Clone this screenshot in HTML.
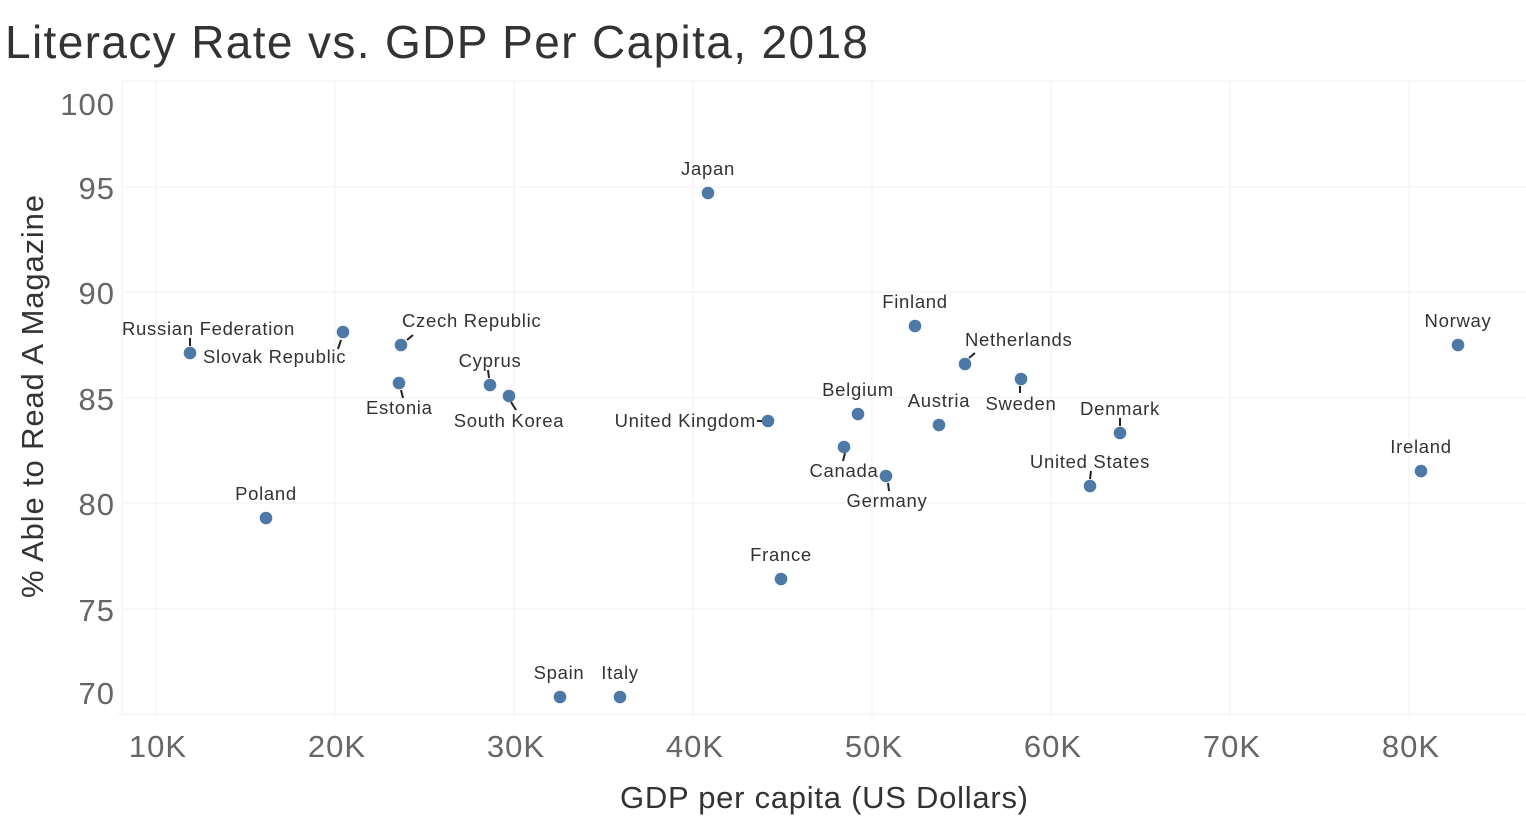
<!DOCTYPE html>
<html><head><meta charset="utf-8"><style>
body{margin:0;background:#fff;}
svg{display:block;font-family:"Liberation Sans","DejaVu Sans",sans-serif;}
.tk{fill:#666;font-size:31px;letter-spacing:1px;}
.lb{fill:#333;font-size:18.5px;letter-spacing:0.7px;}
.g{stroke:#efefef;stroke-width:1;}
</style></head><body>
<svg width="1526" height="824" viewBox="0 0 1526 824">
<text x="5" y="58" font-size="46" fill="#333" textLength="863" lengthAdjust="spacing">Literacy Rate vs. GDP Per Capita, 2018</text>
<g class="g">
<line x1="122" y1="81" x2="1526" y2="81"/>
<line x1="122" y1="187" x2="1526" y2="187"/>
<line x1="122" y1="292" x2="1526" y2="292"/>
<line x1="122" y1="398" x2="1526" y2="398"/>
<line x1="122" y1="503" x2="1526" y2="503"/>
<line x1="122" y1="609" x2="1526" y2="609"/>
<line x1="118" y1="714" x2="1526" y2="714"/>
<line x1="122" y1="81" x2="122" y2="714"/>
<line x1="156" y1="81" x2="156" y2="718"/>
<line x1="335" y1="81" x2="335" y2="718"/>
<line x1="514" y1="81" x2="514" y2="718"/>
<line x1="693" y1="81" x2="693" y2="718"/>
<line x1="872" y1="81" x2="872" y2="718"/>
<line x1="1051" y1="81" x2="1051" y2="718"/>
<line x1="1230" y1="81" x2="1230" y2="718"/>
<line x1="1409" y1="81" x2="1409" y2="718"/>
</g>
<g class="tk" text-anchor="end">
<text x="115" y="115">100</text>
<text x="115" y="199">95</text>
<text x="115" y="304">90</text>
<text x="115" y="410">85</text>
<text x="115" y="515">80</text>
<text x="115" y="621">75</text>
<text x="115" y="704">70</text>
</g>
<g class="tk" text-anchor="middle">
<text x="158" y="757">10K</text><text x="337" y="757">20K</text><text x="516" y="757">30K</text><text x="695" y="757">40K</text>
<text x="874" y="757">50K</text><text x="1053" y="757">60K</text><text x="1232" y="757">70K</text><text x="1411" y="757">80K</text>
</g>
<text x="620" y="808" font-size="31" fill="#333" textLength="408" lengthAdjust="spacing">GDP per capita (US Dollars)</text>
<text transform="translate(43,598) rotate(-90)" font-size="31" fill="#333" textLength="403" lengthAdjust="spacing">% Able to Read A Magazine</text>
<g stroke="#222" stroke-width="2">
<line x1="190" y1="338" x2="190" y2="346"/>
<line x1="341" y1="340" x2="338" y2="349"/>
<line x1="407" y1="340" x2="413" y2="335"/>
<line x1="401" y1="390" x2="403" y2="398"/>
<line x1="488" y1="370" x2="489" y2="378"/>
<line x1="511" y1="402" x2="516" y2="410"/>
<line x1="757" y1="421" x2="762" y2="421"/>
<line x1="845" y1="453" x2="843" y2="461"/>
<line x1="888" y1="483" x2="889" y2="491"/>
<line x1="969" y1="358" x2="975" y2="353"/>
<line x1="1020" y1="386" x2="1020" y2="393"/>
<line x1="1120" y1="418" x2="1120" y2="426"/>
<line x1="1091" y1="471" x2="1090" y2="479"/>
</g>
<g fill="#4e79a7">
<circle cx="190" cy="353" r="6.3"/><circle cx="343" cy="332" r="6.3"/><circle cx="401" cy="345" r="6.3"/><circle cx="399" cy="383" r="6.3"/>
<circle cx="266" cy="518" r="6.3"/><circle cx="490" cy="385" r="6.3"/><circle cx="509" cy="396" r="6.3"/><circle cx="708" cy="193" r="6.3"/>
<circle cx="768" cy="421" r="6.3"/><circle cx="781" cy="579" r="6.3"/><circle cx="560" cy="697" r="6.3"/><circle cx="620" cy="697" r="6.3"/>
<circle cx="858" cy="414" r="6.3"/><circle cx="844" cy="447" r="6.3"/><circle cx="886" cy="476" r="6.3"/><circle cx="915" cy="326" r="6.3"/>
<circle cx="939" cy="425" r="6.3"/><circle cx="965" cy="364" r="6.3"/><circle cx="1021" cy="379" r="6.3"/><circle cx="1120" cy="433" r="6.3"/>
<circle cx="1090" cy="486" r="6.3"/><circle cx="1421" cy="471" r="6.3"/><circle cx="1458" cy="345" r="6.3"/>
</g>
<g class="lb">
<text x="122" y="335">Russian Federation</text>
<text x="203" y="363">Slovak Republic</text>
<text x="402" y="327">Czech Republic</text>
<text x="366" y="414">Estonia</text>
<text x="266" y="500" text-anchor="middle">Poland</text>
<text x="490" y="367" text-anchor="middle">Cyprus</text>
<text x="509" y="427" text-anchor="middle">South Korea</text>
<text x="708" y="175" text-anchor="middle">Japan</text>
<text x="756" y="427" text-anchor="end">United Kingdom</text>
<text x="781" y="561" text-anchor="middle">France</text>
<text x="559" y="679" text-anchor="middle">Spain</text>
<text x="620" y="679" text-anchor="middle">Italy</text>
<text x="858" y="396" text-anchor="middle">Belgium</text>
<text x="844" y="477" text-anchor="middle">Canada</text>
<text x="887" y="507" text-anchor="middle">Germany</text>
<text x="915" y="308" text-anchor="middle">Finland</text>
<text x="939" y="407" text-anchor="middle">Austria</text>
<text x="965" y="346">Netherlands</text>
<text x="1021" y="410" text-anchor="middle">Sweden</text>
<text x="1120" y="415" text-anchor="middle">Denmark</text>
<text x="1090" y="468" text-anchor="middle">United States</text>
<text x="1421" y="453" text-anchor="middle">Ireland</text>
<text x="1458" y="327" text-anchor="middle">Norway</text>
</g>
</svg>
</body></html>
